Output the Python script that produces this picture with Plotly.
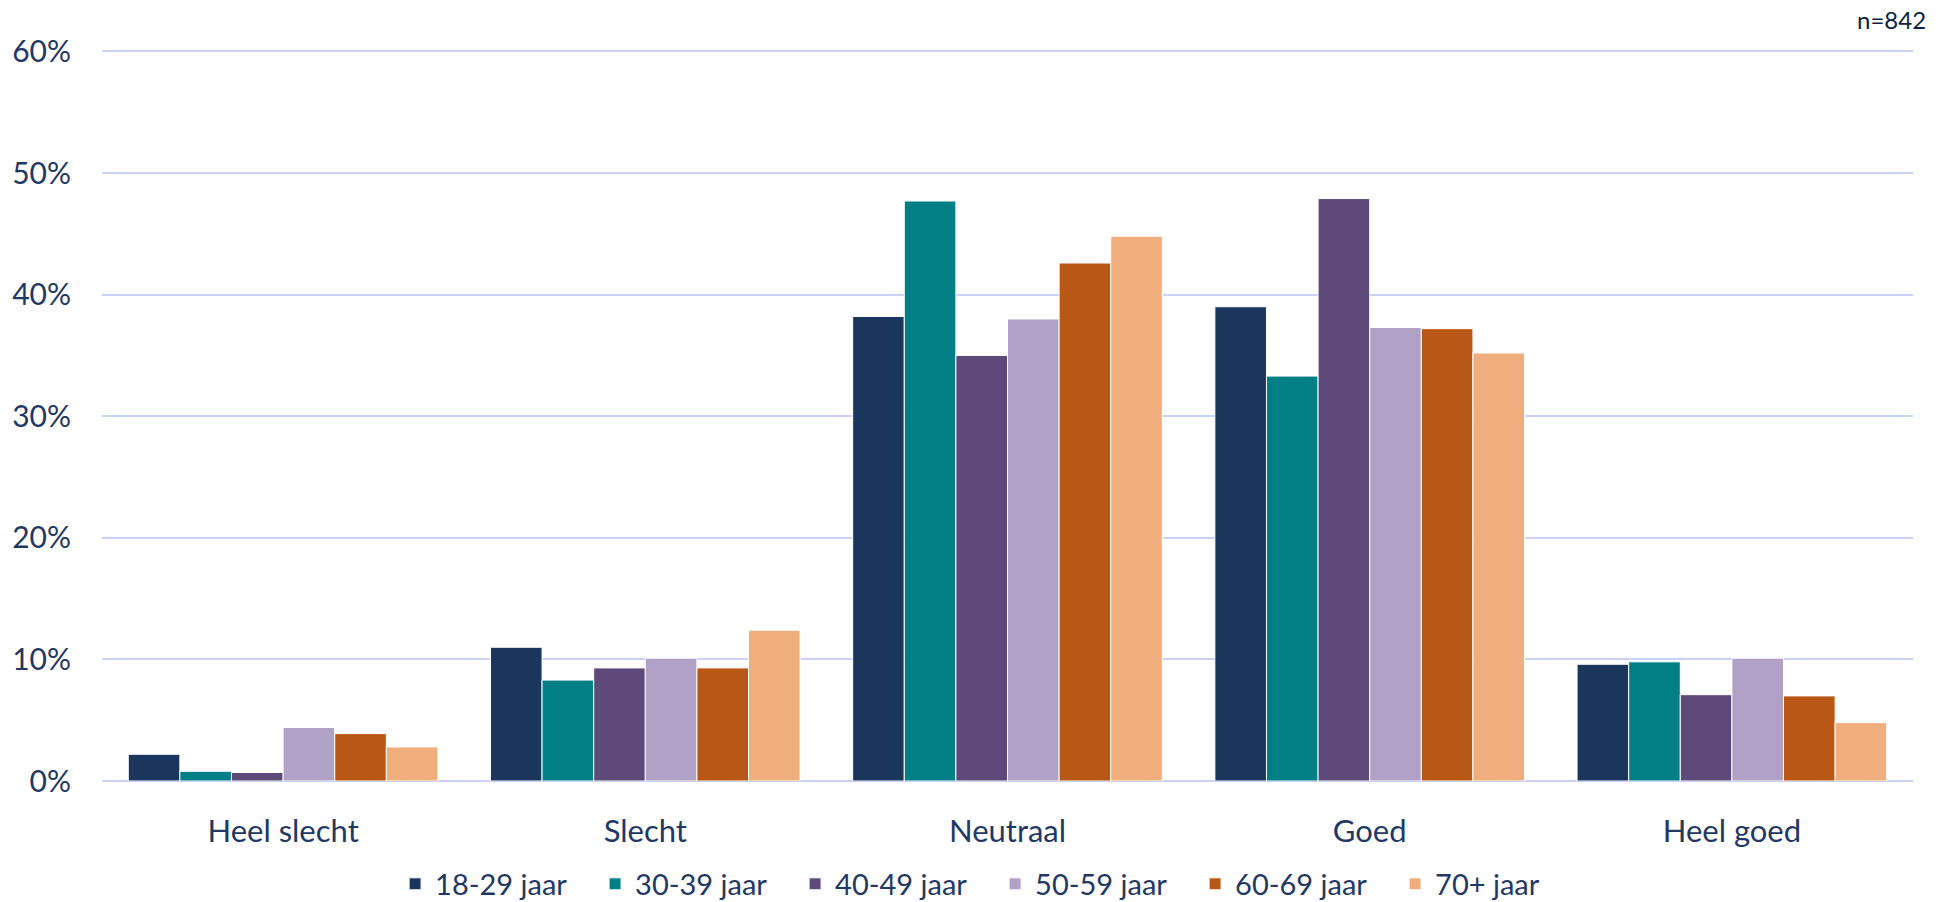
import plotly.graph_objects as go

categories = ["Heel slecht", "Slecht", "Neutraal", "Goed", "Heel goed"]
series_names = ["18-29 jaar", "30-39 jaar", "40-49 jaar", "50-59 jaar", "60-69 jaar", "70+ jaar"]
v_18_29 = [2.2, 11.0, 38.2, 39.0, 9.6]
v_30_39 = [0.8, 8.3, 47.7, 33.3, 9.8]
v_40_49 = [0.7, 9.3, 35.0, 47.9, 7.1]
v_50_59 = [4.4, 10.1, 38.0, 37.3, 10.1]
v_60_69 = [3.9, 9.3, 42.6, 37.2, 7.0]
v_70_plus = [2.8, 12.4, 44.8, 35.2, 4.8]
colors = ["#1B365D", "#007F86", "#5E4A7A", "#B1A1C7", "#B85716", "#F0AE7E"]
tick_vals = [0, 10, 20, 30, 40, 50, 60]
tick_text = ["0%", "10%", "20%", "30%", "40%", "50%", "60%"]

all_values = [v_18_29, v_30_39, v_40_49, v_50_59, v_60_69, v_70_plus]

text_color = "#1F3864"
font_family = "Lato, 'Open Sans', sans-serif"

fig = go.Figure()
for name, vals, col in zip(series_names, all_values, colors):
    fig.add_trace(go.Bar(
        x=categories, y=vals, name=name,
        marker=dict(color=col, line=dict(color="white", width=1)),
    ))

fig.update_layout(
    width=1950, height=902,
    barmode="group", bargap=0.145, bargroupgap=0,
    plot_bgcolor="white", paper_bgcolor="white",
    margin=dict(l=102, r=37, t=49, b=121),
    font=dict(family=font_family, color=text_color),
    showlegend=True,
    legend=dict(
        orientation="h", xref="container", x=0.2026, xanchor="left",
        yref="container", y=0.02, yanchor="middle",
        font=dict(size=29, color=text_color, family=font_family),
        entrywidth=155, entrywidthmode="pixels",
        traceorder="normal",
    ),
    annotations=[dict(
        text="n=842", xref="paper", yref="paper", x=1.0, y=1.04,
        xanchor="right", yanchor="middle", xshift=15,
        showarrow=False, font=dict(size=24, color="#0F1F40", family=font_family),
    )],
)
fig.update_xaxes(
    showgrid=False, showline=False, zeroline=False, automargin=False,
    tickfont=dict(size=31, color=text_color), ticklabelstandoff=29,
)
fig.update_yaxes(
    range=[0, 60.2], tickvals=tick_vals, ticktext=tick_text, automargin=False,
    showgrid=True, gridcolor="#C9D1F7", gridwidth=1.5,
    zeroline=True, zerolinecolor="#C9D1F7", zerolinewidth=2,
    showline=False, tickfont=dict(size=30, color=text_color), ticklabelstandoff=30,
)

fig.write_html("out.html", config={"displayModeBar": False},
               post_script="document.body.style.margin='0';")
